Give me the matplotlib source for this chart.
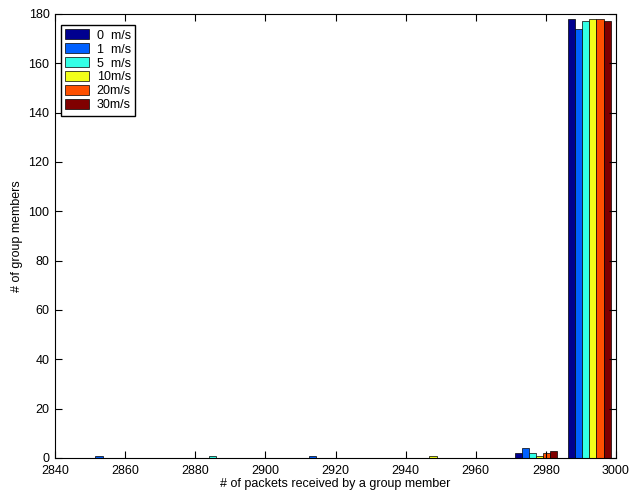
import matplotlib
matplotlib.use("Agg")
import matplotlib.pyplot as plt
import numpy as np

plt.rcParams['font.family'] = ['Liberation Sans', 'DejaVu Sans']

series_labels = ["0  m/s", "1  m/s", "5  m/s", "10m/s", "20m/s", "30m/s"]
colors = [(0, 0, 0.5625), (0, 0.375, 1), (0.2, 1, 0.9), (0.95, 1, 0.1), (1, 0.3125, 0), (0.5, 0, 0)]

data_min = 2848
data_max = 3000
n_bins = 10
# counts per bin (10 bins) per series
counts_0 = [0, 0, 0, 0, 0, 0, 0, 0, 2, 178]
counts_1 = [1, 0, 0, 0, 1, 0, 0, 0, 4, 174]
counts_5 = [0, 0, 1, 0, 0, 0, 0, 0, 2, 177]
counts_10 = [0, 0, 0, 0, 0, 0, 1, 0, 1, 178]
counts_20 = [0, 0, 0, 0, 0, 0, 0, 0, 2, 178]
counts_30 = [0, 0, 0, 0, 0, 0, 0, 0, 3, 177]
all_counts = [counts_0, counts_1, counts_5, counts_10, counts_20, counts_30]

xticks = [2840, 2860, 2880, 2900, 2920, 2940, 2960, 2980, 3000]
yticks = [0, 20, 40, 60, 80, 100, 120, 140, 160, 180]

bw = (data_max - data_min) / n_bins
centers = data_min + bw / 2 + bw * np.arange(n_bins)

fig = plt.figure(figsize=(6.31, 4.91), dpi=100)
ax = fig.add_axes([55 / 631, 33 / 491, 561 / 631, 444 / 491])

ns = len(all_counts)
group_w = 0.8 * bw
w = group_w / ns
for j, (cnt, col, lab) in enumerate(zip(all_counts, colors, series_labels)):
    xs = centers + (j - (ns - 1) / 2) * w
    ax.bar(xs, cnt, width=w, color=col, edgecolor='black', linewidth=0.5, label=lab)

ax.set_xlim(2840, 3000)
ax.set_ylim(0, 180)
ax.set_xticks(xticks)
ax.set_yticks(yticks)
ax.tick_params(direction='in', length=5, width=0.8, top=True, right=True, labelsize=9)
ax.tick_params(axis='x', pad=5)
ax.tick_params(axis='y', pad=4)
for s in ax.spines.values():
    s.set_linewidth(0.8)
ax.set_xlabel("# of packets received by a group member", fontsize=9, labelpad=1)
ax.set_ylabel("# of group members", fontsize=9, labelpad=4)

leg = ax.legend(loc='upper left', fontsize=9, fancybox=False, framealpha=1,
                edgecolor='black', handlelength=1.9, handleheight=0.85,
                labelspacing=0.13, borderpad=0.35, handletextpad=0.6,
                borderaxespad=0, bbox_to_anchor=(6 / 561, 1 - 11 / 444))
leg.get_frame().set_linewidth(1.0)
for p in leg.get_patches():
    p.set_linewidth(0.5)

fig.savefig("out.png", dpi=100)
